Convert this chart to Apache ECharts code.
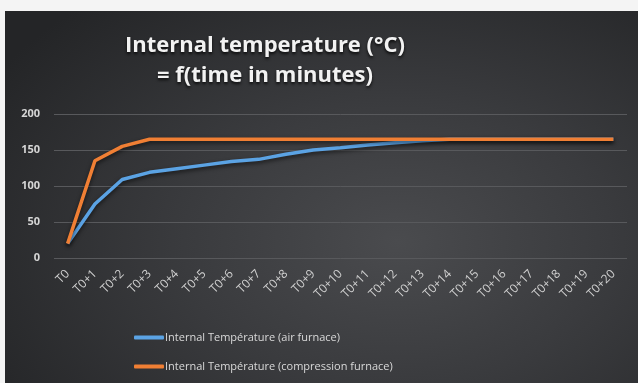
<!DOCTYPE html>
<html>
<head>
<meta charset="utf-8">
<script src="https://cdn.jsdelivr.net/npm/echarts@6/dist/echarts.min.js"></script>
<style>
  html, body { margin: 0; padding: 0; width: 638px; height: 383px; overflow: hidden; background: #f4f4f4; }
  #chart {
    position: absolute; left: 5px; top: 11px; width: 633px; height: 372px;
    background: radial-gradient(ellipse 75% 85% at 62% 62%, #4a4b4e 0%, #3a3b3e 45%, #242527 100%);
  }
</style>
</head>
<body>
<div id="chart"></div>
<script>
// Time steps (minutes after T0)
const categories = ['T0', 'T0+1', 'T0+2', 'T0+3', 'T0+4', 'T0+5', 'T0+6', 'T0+7', 'T0+8', 'T0+9', 'T0+10',
  'T0+11', 'T0+12', 'T0+13', 'T0+14', 'T0+15', 'T0+16', 'T0+17', 'T0+18', 'T0+19', 'T0+20'];

// Internal temperature (°C) in the air furnace
const airFurnace = [20, 75, 109, 119, 124, 129, 134, 137, 144, 150, 153, 157, 160, 163, 165, 165, 165, 165, 165, 165, 165];

// Internal temperature (°C) in the compression furnace
const compressionFurnace = [20, 135, 155, 165, 165, 165, 165, 165, 165, 165, 165, 165, 165, 165, 165, 165, 165, 165, 165, 165, 165];

const yTicks = { min: 0, max: 200, interval: 50 };

const seriesNames = ['Internal Température (air furnace)', 'Internal Température (compression furnace)'];

const chart = echarts.init(document.getElementById('chart'), null, { renderer: 'canvas' });

const lineStyleFor = (color) => ({
  width: 3.5,
  color: color,
  shadowColor: 'rgba(0,0,0,0.6)',
  shadowBlur: 4,
  shadowOffsetY: 2
});

chart.setOption({
  backgroundColor: 'transparent',
  animation: false,
  title: {
    text: 'Internal temperature (°C)\n= f(time in minutes)',
    left: 255,
    textAlign: 'center',
    top: 15,
    textStyle: {
      color: '#f2f2f2',
      fontFamily: 'Open Sans',
      fontWeight: 'bold',
      fontSize: 22,
      lineHeight: 30,
      textShadowColor: 'rgba(0,0,0,0.8)',
      textShadowBlur: 3,
      textShadowOffsetY: 2
    }
  },
  grid: { left: 49, top: 103, width: 573, height: 144, containLabel: false },
  xAxis: {
    type: 'category',
    data: categories,
    boundaryGap: true,
    axisLine: { show: false },
    axisTick: { show: false },
    axisLabel: {
      rotate: 45,
      color: '#cfcfcf',
      fontFamily: 'Open Sans',
      fontSize: 12,
      margin: 14,
      interval: 0
    }
  },
  yAxis: {
    type: 'value',
    min: yTicks.min,
    max: yTicks.max,
    interval: yTicks.interval,
    axisLine: { show: false },
    axisTick: { show: false },
    axisLabel: {
      color: '#d6d6d6',
      fontFamily: 'Open Sans',
      fontWeight: 'bold',
      fontSize: 11,
      margin: 14
    },
    splitLine: { lineStyle: { color: '#58595c', width: 1 } }
  },
  legend: {
    orient: 'vertical',
    left: 124,
    top: 316,
    itemGap: 18,
    itemWidth: 30,
    itemHeight: 4,
    icon: 'roundRect',
    textStyle: { color: '#d9d9d9', fontFamily: 'Open Sans', fontSize: 11, padding: [0, 0, 0, -4] },
    data: seriesNames
  },
  series: [
    {
      name: seriesNames[0],
      type: 'line',
      data: airFurnace,
      symbol: 'none',
      color: '#5ba3e4',
      lineStyle: lineStyleFor('#5ba3e4'),
      z: 2
    },
    {
      name: seriesNames[1],
      type: 'line',
      data: compressionFurnace,
      symbol: 'none',
      color: '#f07f34',
      lineStyle: lineStyleFor('#f07f34'),
      z: 3
    }
  ]
});
</script>
</body>
</html>
